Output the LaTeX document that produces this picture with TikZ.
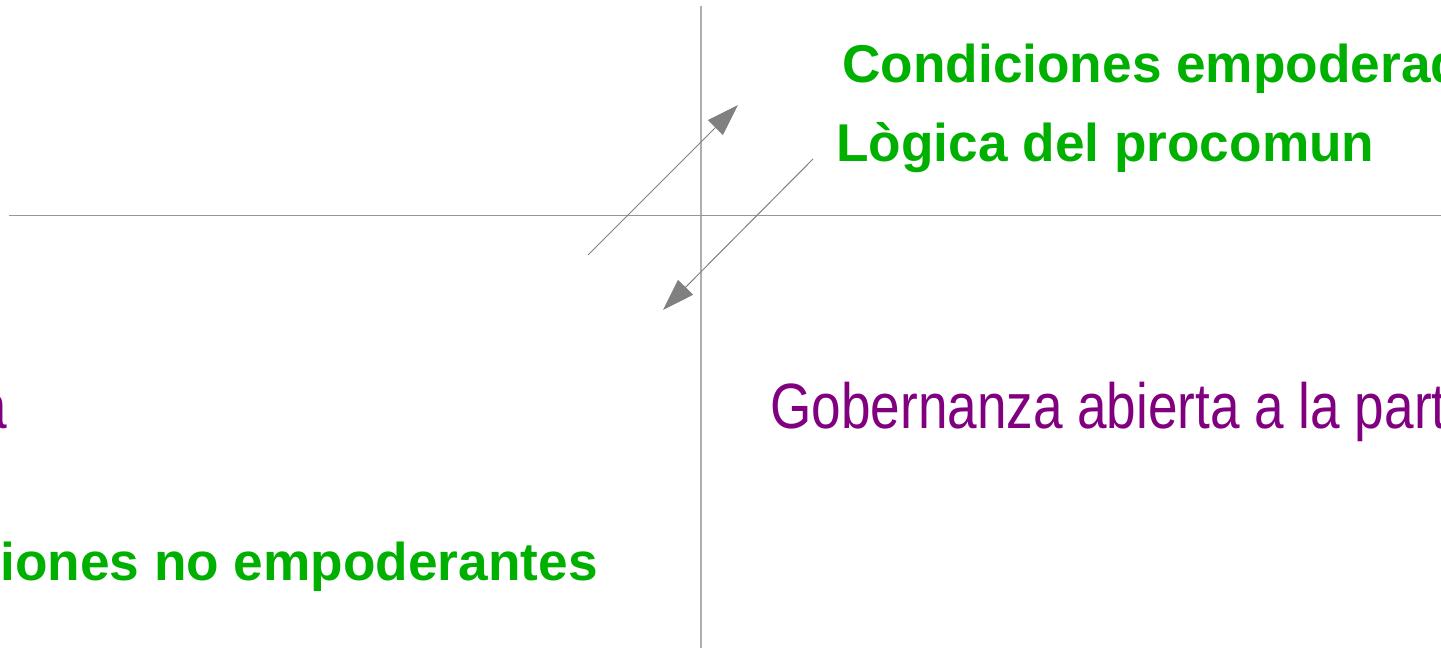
\documentclass[tikz,border=0pt]{standalone}
\usepackage{fontspec}
\setmainfont{Liberation Sans}
\newfontfamily\narrowfont[FakeStretch=0.83]{Liberation Sans}
\usetikzlibrary{arrows.meta}
\definecolor{lblgreen}{RGB}{0,176,0}
\definecolor{lblpurple}{RGB}{128,0,128}
\definecolor{axisv}{RGB}{175,175,175}
\definecolor{axish}{RGB}{150,150,150}
\definecolor{arrgray}{RGB}{128,128,128}
\tikzset{
  greenlbl/.style={inner sep=0pt, text=lblgreen, font=\fontsize{26.6pt}{32pt}\selectfont\bfseries},
  purplelbl/.style={inner sep=0pt, text=lblpurple, font=\narrowfont\fontsize{32pt}{38pt}\selectfont},
  flowarrow/.style={draw=arrgray, line width=0.5pt, -{Triangle[length=16pt,width=10.5pt]}, arrgray},
}
\begin{document}
\begin{tikzpicture}[x=0.5pt,y=-0.5pt]
\clip (0,0) rectangle (1441,652);
\useasboundingbox (0,0) rectangle (1441,652);
% axes
\coordinate (vtop) at (701,6);
\coordinate (vbot) at (701,648);
\coordinate (hleft) at (9,216);
\coordinate (hright) at (1441,216);
\draw[axisv, line width=0.8pt] (vtop) -- (vbot);
\draw[axish, line width=0.5pt] (hleft) -- (hright);
% arrows
\coordinate (a1s) at (588,255);
\coordinate (a1e) at (738,105);
\coordinate (a2s) at (813,159);
\coordinate (a2e) at (663,310);
\draw[flowarrow] (a1s) -- (a1e);
\draw[flowarrow] (a2s) -- (a2e);
% labels
\node[greenlbl, anchor=base west] (cond) at (842,83) {Condiciones empoderadoras};
\node[greenlbl, anchor=base west] (logica) at (836,162) {Lògica del procomun};
\node[greenlbl, anchor=base east] (condno) at (598,580) {Condiciones no empoderantes};
\node[purplelbl, anchor=base west] (gobab) at (770,429) {Gobernanza abierta a la participación};
\node[purplelbl, anchor=base east] (gobce) at (8,429) {Gobernanza cerrada};
\end{tikzpicture}
\end{document}
